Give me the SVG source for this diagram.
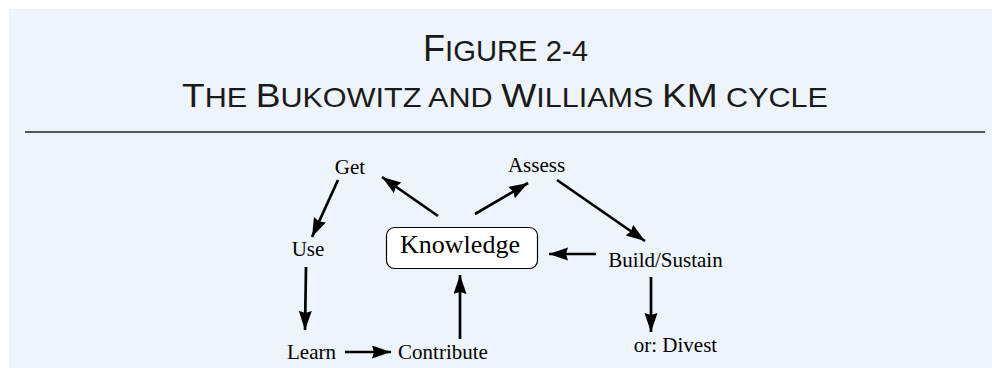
<svg xmlns="http://www.w3.org/2000/svg" width="992" height="368" viewBox="0 0 992 368">
<style>
.title{font-family:"Liberation Sans",Arial,sans-serif;fill:#1a1a1a}
.lbl{font-family:"Liberation Serif","Times New Roman",serif;font-size:21px;fill:#000;text-anchor:middle}
.big{font-size:26px}
.conn line{stroke:#000;stroke-width:2.7;marker-end:url(#ah)}
.box{fill:#fff;stroke:#000;stroke-width:1.2}
</style>
<defs>
<marker id="ah" markerUnits="userSpaceOnUse" markerWidth="21" markerHeight="14" refX="19" refY="6.5" orient="auto" viewBox="0 0 21 14">
<path d="M0,0 L19,6.5 L0,13 L2,6.5 Z" fill="#000"/>
</marker>
</defs>
<rect x="9" y="9" width="983" height="359" fill="#EEF4FB"/>
<g id="title">
<text class="title" x="423" y="61" textLength="165" lengthAdjust="spacingAndGlyphs"><tspan font-size="37">F</tspan><tspan font-size="30">IGURE 2-4</tspan></text>
<text class="title" x="182" y="107" textLength="646" lengthAdjust="spacingAndGlyphs"><tspan font-size="34">T</tspan><tspan font-size="28">HE </tspan><tspan font-size="34">B</tspan><tspan font-size="28">UKOWITZ AND </tspan><tspan font-size="34">W</tspan><tspan font-size="28">ILLIAMS </tspan><tspan font-size="34">KM</tspan><tspan font-size="28"> CYCLE</tspan></text>
<line x1="25" y1="132" x2="985" y2="132" stroke="#222" stroke-width="1.6"/>
</g>
<g class="conn" id="connectors">
<line x1="438" y1="216" x2="382" y2="177"/>
<line x1="475" y1="214" x2="528" y2="183"/>
<line x1="338" y1="180" x2="312" y2="237"/>
<line x1="306" y1="267" x2="305" y2="330"/>
<line x1="345" y1="352" x2="391" y2="352"/>
<line x1="460" y1="339" x2="460" y2="275"/>
<line x1="596" y1="254" x2="549" y2="254"/>
<line x1="557" y1="180" x2="645" y2="241"/>
<line x1="651" y1="277" x2="651" y2="332"/>
</g>
<g id="knowledge">
<rect class="box" x="386.5" y="227.5" width="151" height="41" rx="8"/>
<text class="lbl big" x="460" y="253">Knowledge</text>
</g>
<g id="get"><text class="lbl" x="350" y="174">Get</text></g>
<g id="assess"><text class="lbl" x="536.5" y="172">Assess</text></g>
<g id="use"><text class="lbl" x="308" y="256">Use</text></g>
<g id="build"><text class="lbl" x="665.5" y="267">Build/Sustain</text></g>
<g id="learn"><text class="lbl" x="311.5" y="359">Learn</text></g>
<g id="contribute"><text class="lbl" x="443" y="359">Contribute</text></g>
<g id="divest"><text class="lbl" x="675.5" y="352">or: Divest</text></g>
</svg>
